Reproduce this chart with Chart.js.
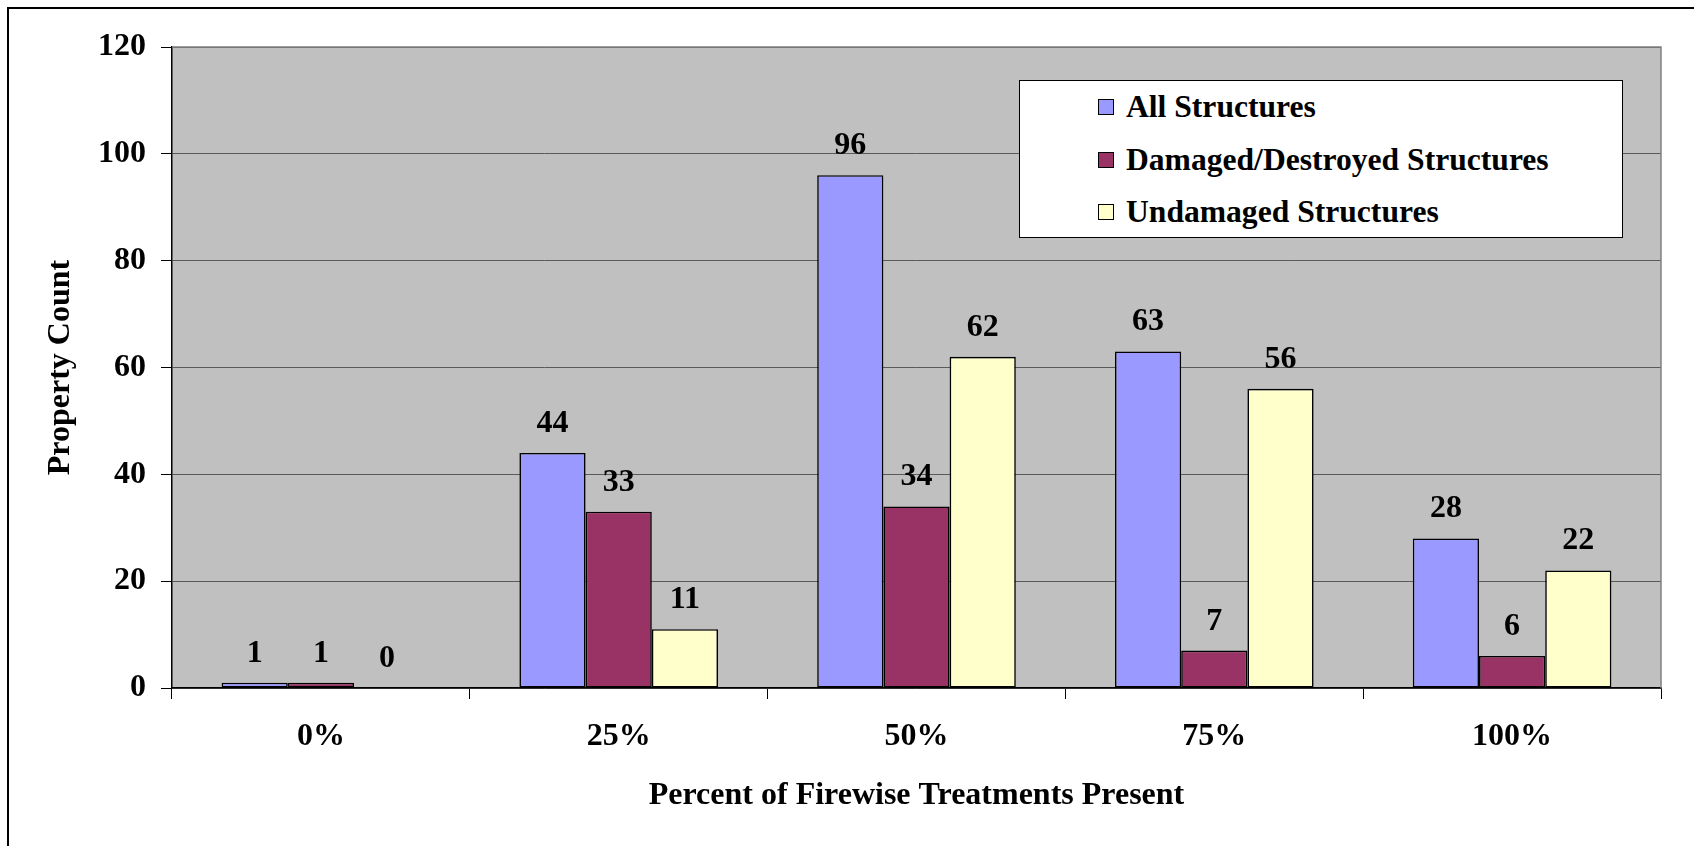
<!DOCTYPE html>
<html>
<head>
<meta charset="utf-8">
<script src="https://cdn.jsdelivr.net/npm/chart.js@4.4.1/dist/chart.umd.min.js"></script>
<style>
  html, body { margin: 0; padding: 0; background: #fff; }
  #wrap { position: relative; width: 1694px; height: 846px; overflow: hidden; }
  #frame { position: absolute; left: 7px; top: 7px; width: 1800px; height: 900px;
           border-top: 2px solid #000; border-left: 2px solid #000; box-sizing: border-box; pointer-events: none; }
  #legend { position: absolute; left: 1019px; top: 80px; width: 604px; height: 158px;
            background: #fff; border: 1px solid #000; box-sizing: border-box;
            font-family: "Liberation Serif", "Times New Roman", serif; font-weight: bold; font-size: 31.6px; color: #000; }
  .item { position: absolute; left: 78px; height: 36px; line-height: 36px; white-space: nowrap; }
  .sw { position: absolute; left: 0; top: 10px; width: 16px; height: 16px; border: 1.5px solid #000; box-sizing: border-box; }
  .lab { position: absolute; left: 28px; top: 0; }
</style>
</head>
<body>
<div id="wrap">
  <canvas id="c" width="1694" height="846"></canvas>
  <div id="frame"></div>
  <div id="legend"></div>
</div>
<script>
const categories = ["0%", "25%", "50%", "75%", "100%"];
const allStructures = [1, 44, 96, 63, 28];
const damagedStructures = [1, 33, 34, 7, 6];
const undamagedStructures = [0, 11, 62, 56, 22];
const seriesNames = ["All Structures", "Damaged/Destroyed Structures", "Undamaged Structures"];
const seriesColors = ["#9999FF", "#993366", "#FFFFCC"];
const yTicks = [0, 20, 40, 60, 80, 100, 120];

const FONT = "'Liberation Serif', 'Times New Roman', serif";

const bgPlugin = {
  id: 'plotBg',
  beforeDraw(chart) {
    const {ctx, chartArea: a} = chart;
    ctx.save();
    ctx.fillStyle = '#C0C0C0';
    ctx.fillRect(a.left, a.top, a.right - a.left, a.bottom - a.top);
    ctx.restore();
  },
  afterDraw(chart) {
    const {ctx, chartArea: a} = chart;
    ctx.save();
    ctx.strokeStyle = '#808080';
    ctx.lineWidth = 1.5;
    ctx.beginPath();
    ctx.moveTo(a.left, a.top);
    ctx.lineTo(a.right, a.top);
    ctx.lineTo(a.right, a.bottom);
    ctx.stroke();
    ctx.restore();
  }
};

const labelPlugin = {
  id: 'valueLabels',
  afterDatasetsDraw(chart) {
    const {ctx} = chart;
    ctx.save();
    ctx.font = "bold 32px " + FONT;
    ctx.fillStyle = '#000';
    ctx.textAlign = 'center';
    ctx.textBaseline = 'alphabetic';
    chart.data.datasets.forEach((ds, i) => {
      const meta = chart.getDatasetMeta(i);
      meta.data.forEach((bar, j) => {
        ctx.fillText(String(ds.data[j]), bar.x, bar.y - 21);
      });
    });
    ctx.restore();
  }
};

const seriesData = [allStructures, damagedStructures, undamagedStructures];

new Chart(document.getElementById('c'), {
  type: 'bar',
  data: {
    labels: categories,
    datasets: seriesData.map((d, i) => ({
      label: seriesNames[i],
      data: d,
      backgroundColor: seriesColors[i],
      borderColor: '#000',
      borderWidth: 1.6,
      borderSkipped: false,
      categoryPercentage: 0.667,
      barPercentage: 1.0
    }))
  },
  options: {
    responsive: false,
    devicePixelRatio: 1,
    animation: false,
    layout: { padding: { left: 0, top: 47, right: 33, bottom: 0 } },
    plugins: { legend: { display: false }, tooltip: { enabled: false } },
    scales: {
      x: {
        afterFit(s) { s.height = 158; },
        grid: { drawOnChartArea: false, drawTicks: true, tickLength: 11, tickColor: '#000', offset: true },
        border: { color: '#000', width: 1.5 },
        ticks: { color: '#000', padding: 19, font: { family: FONT, size: 32, weight: 'bold' } },
        title: { display: true, text: 'Percent of Firewise Treatments Present', color: '#000',
                 padding: { top: 0, bottom: 31 }, font: { family: FONT, size: 32, weight: 'bold' } }
      },
      y: {
        min: 0, max: 120,
        afterFit(s) { s.width = 172; },
        afterBuildTicks(s) { s.ticks = yTicks.map(v => ({ value: v })); },
        grid: { color: '#5a5a5a', lineWidth: 1, drawTicks: true, tickLength: 11, tickColor: '#000' },
        border: { color: '#000', width: 1.5 },
        ticks: { color: '#000', padding: 15, font: { family: FONT, size: 32, weight: 'bold' } },
        title: { display: true, text: 'Property Count', color: '#000',
                 padding: { top: 42, bottom: 0 }, font: { family: FONT, size: 32, weight: 'bold' } }
      }
    }
  },
  plugins: [bgPlugin, labelPlugin]
});

const legend = document.getElementById('legend');
const rowTops = [8, 61, 113];
seriesNames.forEach((name, i) => {
  const it = document.createElement('div');
  it.className = 'item';
  it.style.top = rowTops[i] + 'px';
  const sw = document.createElement('div');
  sw.className = 'sw';
  sw.style.background = seriesColors[i];
  const lab = document.createElement('span');
  lab.className = 'lab';
  lab.textContent = name;
  it.appendChild(sw);
  it.appendChild(lab);
  legend.appendChild(it);
});
</script>
</body>
</html>
